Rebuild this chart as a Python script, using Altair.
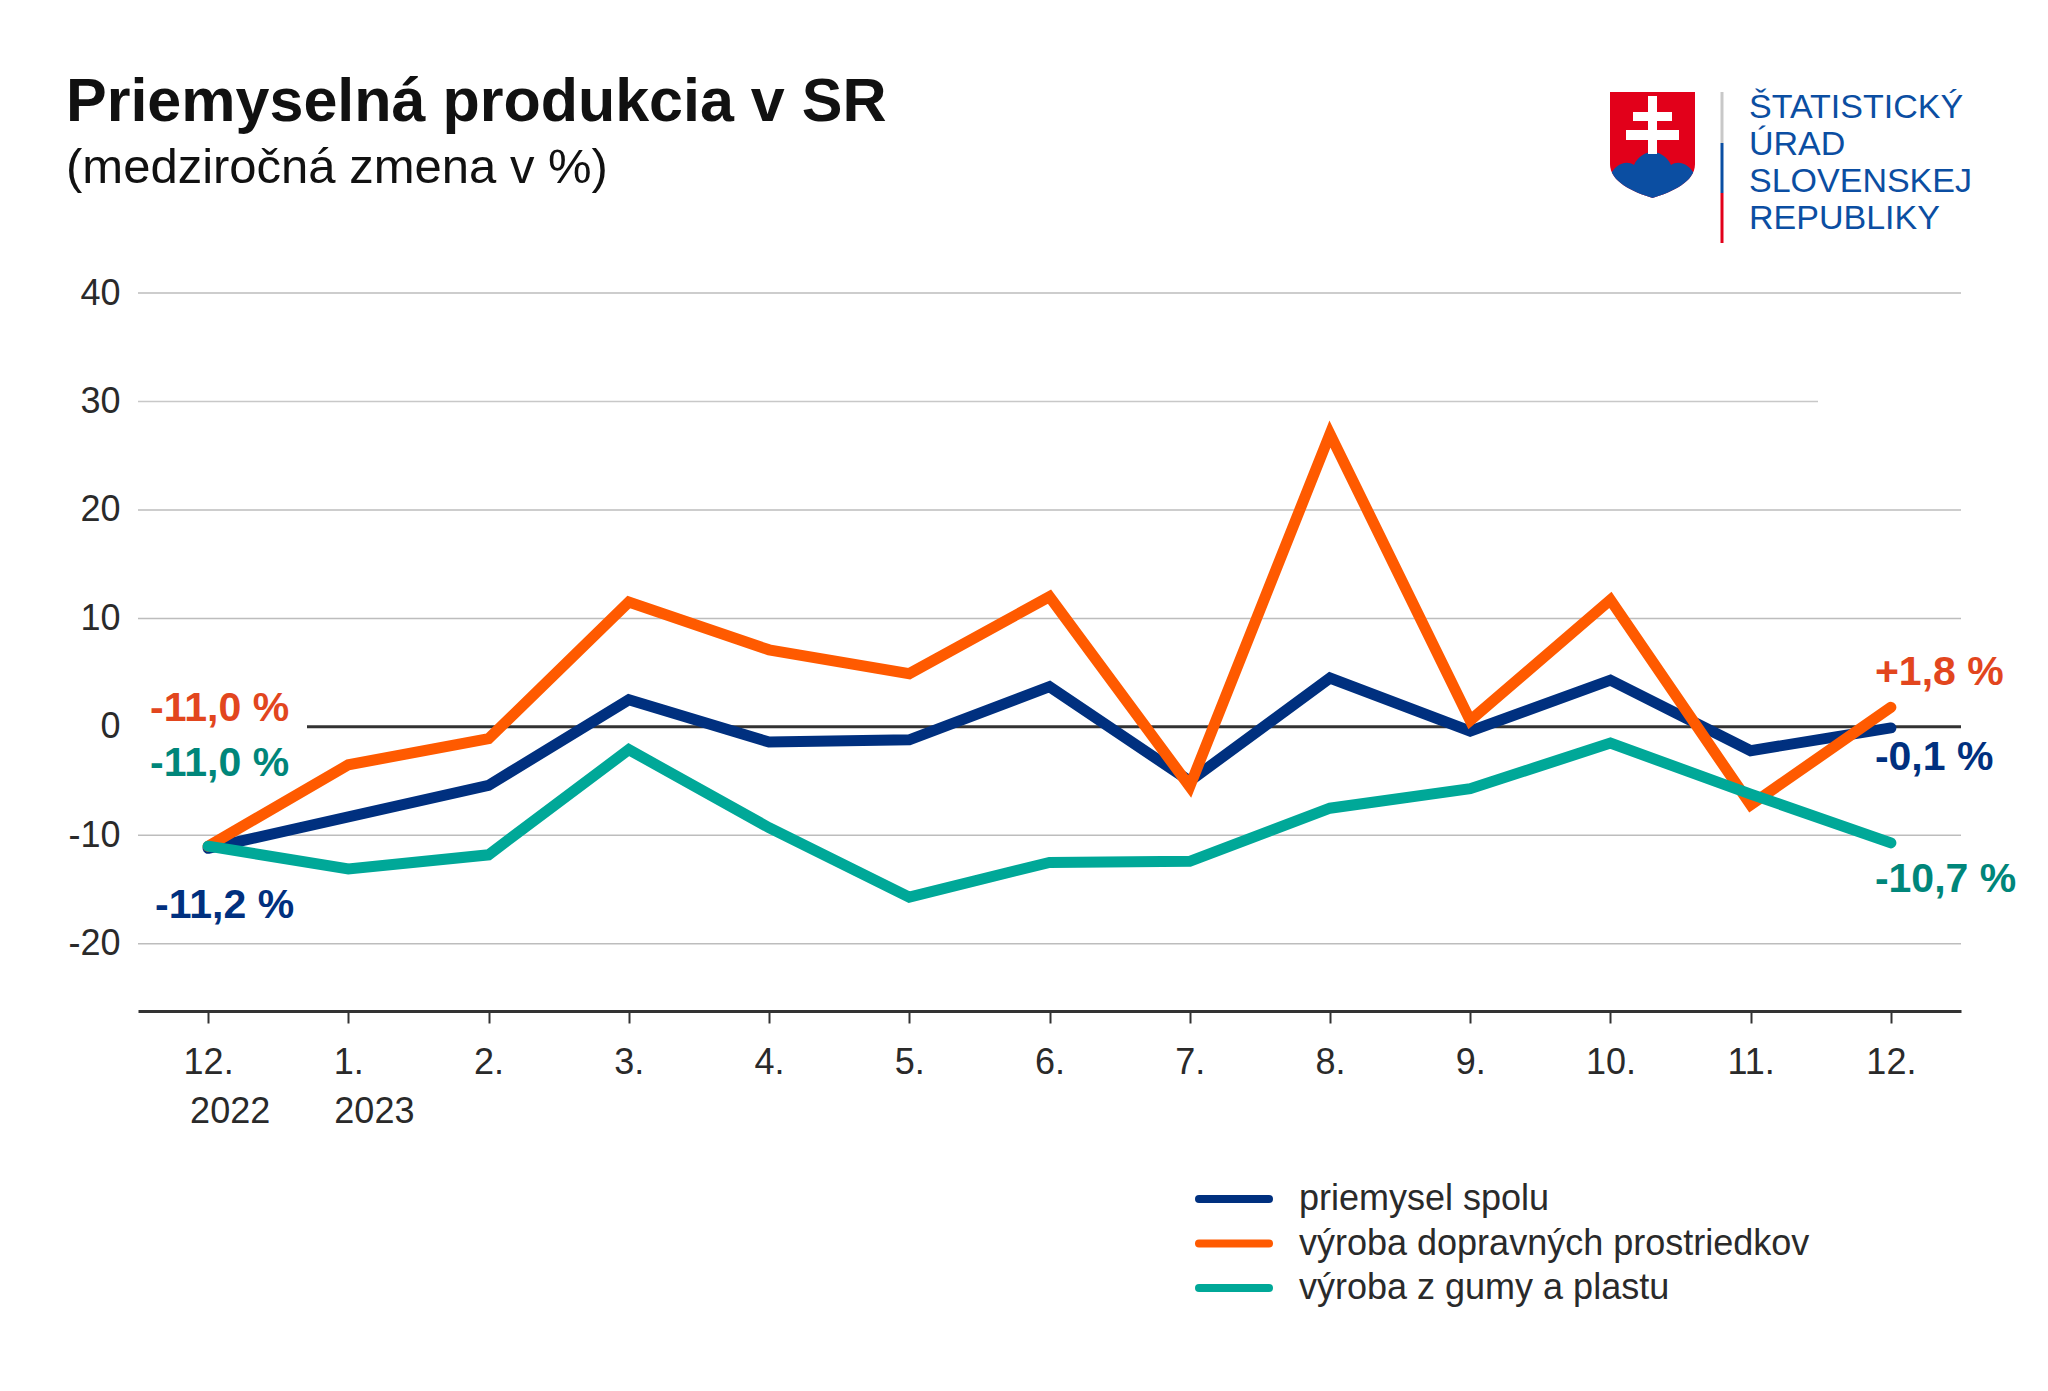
import json
import base64
import pandas as pd
import altair as alt

# ---------------- data ----------------
periods = ["2022-12", "2023-01", "2023-02", "2023-03", "2023-04", "2023-05", "2023-06",
           "2023-07", "2023-08", "2023-09", "2023-10", "2023-11", "2023-12"]
month_labels = ["12.", "1.", "2.", "3.", "4.", "5.", "6.", "7.", "8.", "9.", "10.", "11.", "12."]
year_labels = ["2022", "2023"]

series_names = ["priemysel spolu", "výroba dopravných prostriedkov", "výroba z gumy a plastu"]
priemysel_spolu = [-11.2, -8.3, -5.4, 2.5, -1.4, -1.2, 3.7, -5.0, 4.5, -0.4, 4.3, -2.2, -0.1]
vyroba_doprava = [-11.0, -3.5, -1.1, 11.5, 7.1, 4.9, 12.0, -5.5, 27.0, 0.6, 11.7, -7.2, 1.8]
vyroba_guma = [-11.0, -13.1, -11.8, -2.1, -9.3, -15.7, -12.5, -12.4, -7.5, -5.7, -1.5, -6.2, -10.7]
series_values = [priemysel_spolu, vyroba_doprava, vyroba_guma]

line_colors = ["#00307F", "#FF5A00", "#00A898"]
label_colors = ["#00307F", "#E2461E", "#00867A"]

y_ticks = [-20, -10, 0, 10, 20, 30, 40]
short_grid = [30]

TITLE = "Priemyselná produkcia v SR"
SUBTITLE = "(medziročná zmena v %)"
LOGO_TEXT = "ŠTATISTICKÝ\nÚRAD\nSLOVENSKEJ\nREPUBLIKY"

# ---------------- layout ----------------
W, H = 1823, 718
FONT = "Liberation Sans"

def fmt(v):
    return f"{v:+.1f}".replace(".", ",") + " %"

label_expr = f"{json.dumps(month_labels)}[indexof({json.dumps(periods)}, datum.value)]"

x_enc = alt.X(
    "period:O",
    sort=periods,
    scale=alt.Scale(type="point", padding=0.5),
    axis=alt.Axis(
        title=None, labelExpr=label_expr, labelAngle=0, labelFontSize=36, labelFont=FONT,
        labelColor="#2A2A2A", labelPadding=22, domainColor="#333333", domainWidth=3,
        tickColor="#333333", tickWidth=2, tickSize=12, grid=False,
    ),
)
y_scale = alt.Scale(domain=[-26.2, 40], nice=False, zero=False)
y_enc = alt.Y(
    "value:Q",
    scale=y_scale,
    axis=alt.Axis(
        title=None, values=y_ticks, labelExpr="'' + datum.value", labelFontSize=36, labelFont=FONT,
        labelColor="#2A2A2A", labelPadding=18, ticks=False, domain=False, grid=False,
    ),
)

layers = []

# grid lines (the 30 line is shorter in the original)
grid_full = [v for v in y_ticks if v != 0 and v not in short_grid]
layers.append(
    alt.Chart(pd.DataFrame({"value": grid_full})).mark_rule(color="#BDBDBD", strokeWidth=1.5)
    .encode(y=y_enc, x=alt.value(0), x2=alt.value(W))
)
layers.append(
    alt.Chart(pd.DataFrame({"value": short_grid})).mark_rule(color="#C8C8C8", strokeWidth=1.5)
    .encode(y=y_enc, x=alt.value(0), x2=alt.value(1680))
)

# zero line
layers.append(
    alt.Chart(pd.DataFrame({"value": [0]})).mark_rule(color="#333333", strokeWidth=3)
    .encode(y=y_enc, x=alt.value(169), x2=alt.value(W))
)

# series lines
for name, vals, col in zip(series_names, series_values, line_colors):
    df = pd.DataFrame({"period": periods, "value": vals, "series": name})
    layers.append(
        alt.Chart(df).mark_line(color=col, strokeWidth=11, strokeCap="round", strokeJoin="miter")
        .encode(x=x_enc, y=y_enc)
    )

# end labels (first / last values)
label_offsets = [
    # (first dx, first dy, last dx, last dy)
    (-53, 70, -16, 42),
    (-58, -125, -16, -22),
    (-58, -70, -16, 49),
]
for vals, col, (fdx, fdy, ldx, ldy) in zip(series_values, label_colors, label_offsets):
    for idx, dx, dy in [(0, fdx, fdy), (-1, ldx, ldy)]:
        df = pd.DataFrame({"period": [periods[idx]], "value": [vals[idx]], "lab": [fmt(vals[idx])]})
        layers.append(
            alt.Chart(df).mark_text(align="left", baseline="alphabetic", font=FONT, fontWeight="bold",
                                    fontSize=41, color=col, dx=dx, dy=dy)
            .encode(x=x_enc, y=y_enc, text="lab:N")
        )

# year labels under first two months
for i, (yl, dx) in enumerate(zip(year_labels, [-18, -14])):
    df = pd.DataFrame({"period": [periods[i]], "year": [yl]})
    layers.append(
        alt.Chart(df).mark_text(align="left", baseline="alphabetic", font=FONT, fontSize=36,
                                color="#2A2A2A", dx=dx)
        .encode(x=x_enc, y=alt.value(H + 112), text="year:N")
    )

# title & subtitle
layers.append(
    alt.Chart(pd.DataFrame({"t": [TITLE]})).mark_text(
        align="left", baseline="alphabetic", font=FONT, fontWeight="bold", fontSize=61, color="#111111"
    ).encode(text="t:N", x=alt.value(-72), y=alt.value(-172))
)
layers.append(
    alt.Chart(pd.DataFrame({"t": [SUBTITLE]})).mark_text(
        align="left", baseline="alphabetic", font=FONT, fontSize=49, color="#111111"
    ).encode(text="t:N", x=alt.value(-72), y=alt.value(-110))
)

# legend (custom)
for i, (name, col) in enumerate(zip(series_names, line_colors)):
    yy = 906 + i * 44.5
    layers.append(
        alt.Chart(pd.DataFrame({"s": [name]})).mark_rule(color=col, strokeWidth=8, strokeCap="round")
        .encode(x=alt.value(1061), x2=alt.value(1131), y=alt.value(yy))
    )
    layers.append(
        alt.Chart(pd.DataFrame({"s": [name]})).mark_text(
            align="left", baseline="middle", font=FONT, fontSize=36, color="#2A2A2A"
        ).encode(text="s:N", x=alt.value(1161), y=alt.value(yy))
    )

# logo: shield image, separator bar, text
shield_svg = (
    '<svg xmlns="http://www.w3.org/2000/svg" viewBox="0 0 85 106" width="85" height="106">'
    '<defs><clipPath id="c"><path d="M0,0 H85 V72 C85,90 62,100 42.5,106 C23,100 0,90 0,72 Z"/></clipPath></defs>'
    '<path d="M0,0 H85 V72 C85,90 62,100 42.5,106 C23,100 0,90 0,72 Z" fill="#E2001A"/>'
    '<path clip-path="url(#c)" d="M0,84 C4,73 16,67 24,73 C28,64 36,60 42.5,60 C49,60 57,64 61,73 '
    'C69,67 81,73 85,84 V106 H0 Z" fill="#0B4EA2"/>'
    '<path fill="#ffffff" d="M38,4 H47 V20 H62 V29 H47 V38 H69 V48 H47 V62 H38 V48 H16 V38 H38 V29 H23 V20 H38 Z"/>'
    '</svg>'
)
shield_uri = "data:image/svg+xml;base64," + base64.b64encode(shield_svg.encode("utf-8")).decode("ascii")
layers.append(
    alt.Chart(pd.DataFrame({"u": [shield_uri]})).mark_image(
        width=85, height=106, align="left", baseline="top", aspect=False
    ).encode(url="u:N", x=alt.value(1472), y=alt.value(-201))
)
for col, (y1, y2) in zip(["#C8C8C8", "#0B4EA2", "#E2001A"], [(-201, -150), (-150, -100), (-100, -50)]):
    layers.append(
        alt.Chart(pd.DataFrame({"s": [col]})).mark_rule(color=col, strokeWidth=3)
        .encode(x=alt.value(1584), y=alt.value(y1), y2=alt.value(y2))
    )
layers.append(
    alt.Chart(pd.DataFrame({"t": [LOGO_TEXT]})).mark_text(
        align="left", baseline="alphabetic", font=FONT, fontSize=34, color="#0B4EA2",
        lineBreak="\n", lineHeight=37
    ).encode(text="t:N", x=alt.value(1611), y=alt.value(-175))
)

chart = alt.layer(*layers).properties(
    width=W, height=H,
    padding={"left": 130, "top": 285, "right": 71, "bottom": 360},
    autosize=alt.AutoSizeParams(type="none"),
    background="white",
).configure_view(stroke=None)

chart.save("out.html", embed_options={"renderer": "svg", "actions": False})
